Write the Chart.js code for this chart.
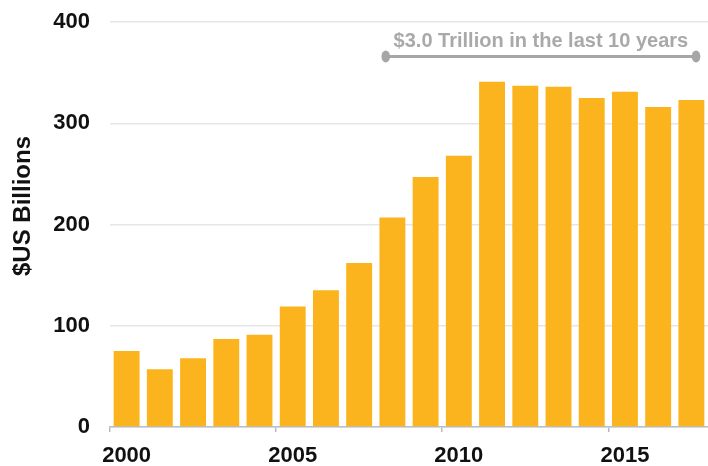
<!DOCTYPE html>
<html>
<head>
<meta charset="utf-8">
<script src="https://cdn.jsdelivr.net/npm/chart.js@4/dist/chart.umd.min.js"></script>
<style>
  html, body { margin: 0; padding: 0; background: #ffffff; }
  #wrap { width: 708px; height: 466px; position: relative; }
</style>
</head>
<body>
<div id="wrap"><canvas id="c"></canvas></div>
<script>
// ---- data ----
const years = ['2000','2001','2002','2003','2004','2005','2006','2007','2008','2009',
               '2010','2011','2012','2013','2014','2015','2016','2017'];
const investment = [75, 57, 68, 87, 91, 119, 135, 162, 207, 247,
                    268, 341, 337, 336, 325, 331, 316, 323];
const yTicks = [0, 100, 200, 300, 400];
const yTitle = '$US Billions';
const annotationText = '$3.0 Trillion in the last 10 years';
const annotationStartIndex = 8;
const annotationEndIndex = 17;
const annotationLineValue = 366;
const annotationTextValue = 381;

const FONT = "'Liberation Sans', Arial, sans-serif";

const bracketPlugin = {
  id: 'bracket',
  afterDatasetsDraw(chart) {
    const xs = chart.scales.x, ys = chart.scales.y;
    const ctx = chart.ctx;
    const cw = xs.getPixelForValue(1) - xs.getPixelForValue(0);
    const x1 = xs.getPixelForValue(annotationStartIndex) - 0.2 * cw;
    const x2 = xs.getPixelForValue(annotationEndIndex) + 0.14 * cw;
    const yl = ys.getPixelForValue(annotationLineValue);
    const yt = ys.getPixelForValue(annotationTextValue);
    ctx.save();
    ctx.strokeStyle = '#a6a6a6';
    ctx.fillStyle = '#a6a6a6';
    ctx.lineWidth = 3;
    ctx.beginPath();
    ctx.moveTo(x1, yl);
    ctx.lineTo(x2, yl);
    ctx.stroke();
    [x1, x2].forEach(x => {
      ctx.beginPath();
      ctx.ellipse(x, yl, 4.3, 6, 0, 0, Math.PI * 2);
      ctx.fill();
    });
    ctx.fillStyle = '#a9a9a9';
    ctx.font = "bold 20px " + FONT;
    ctx.textAlign = 'center';
    ctx.textBaseline = 'middle';
    ctx.fillText(annotationText, (x1 + x2) / 2, yt);
    ctx.restore();
  }
};

const yTitlePlugin = {
  id: 'yTitle',
  afterDraw(chart) {
    const ctx = chart.ctx;
    ctx.save();
    ctx.translate(23, 206);
    ctx.rotate(-Math.PI / 2);
    ctx.fillStyle = '#111111';
    ctx.font = "bold 24px " + FONT;
    ctx.textAlign = 'center';
    ctx.textBaseline = 'middle';
    ctx.fillText(yTitle, 0, 0);
    ctx.restore();
  }
};

new Chart(document.getElementById('c'), {
  type: 'bar',
  data: {
    labels: years,
    datasets: [{
      data: investment,
      backgroundColor: '#FBB41E',
      borderWidth: 0,
      categoryPercentage: 1,
      barPercentage: 0.78
    }]
  },
  options: {
    responsive: true,
    maintainAspectRatio: false,
    animation: false,
    layout: { padding: { top: 0, right: -2, left: 0, bottom: 0 } },
    plugins: { legend: { display: false }, tooltip: { enabled: false } },
    scales: {
      x: {
        grid: {
          offset: true,
          drawOnChartArea: false,
          drawTicks: true,
          tickLength: 5,
          lineWidth: 1.5,
          color: (c) => (c.index % 5 === 0 ? '#b4bac4' : 'rgba(0,0,0,0)')
        },
        border: { display: true, color: '#b9bec7', width: 1.5 },
        ticks: {
          autoSkip: false,
          maxRotation: 0,
          padding: 11,
          color: '#111111',
          font: { family: FONT, size: 22, weight: 'bold' },
          callback: function (v, i) { return i % 5 === 0 ? years[i] : ''; }
        },
        afterFit: (s) => { s.height = 39; }
      },
      y: {
        min: yTicks[0],
        max: yTicks[yTicks.length - 1],
        afterBuildTicks: (s) => { s.ticks = yTicks.map(v => ({ value: v })); },
        grid: { color: '#e6e6e6', lineWidth: 1.5, drawTicks: false },
        border: { display: false },
        ticks: {
          padding: 20,
          color: '#111111',
          font: { family: FONT, size: 22, weight: 'bold' }
        },
        title: { display: false },
        afterFit: (s) => { s.width = 110; s.paddingTop = 22; s.paddingBottom = 0; }
      }
    }
  },
  plugins: [bracketPlugin, yTitlePlugin]
});
</script>
</body>
</html>
